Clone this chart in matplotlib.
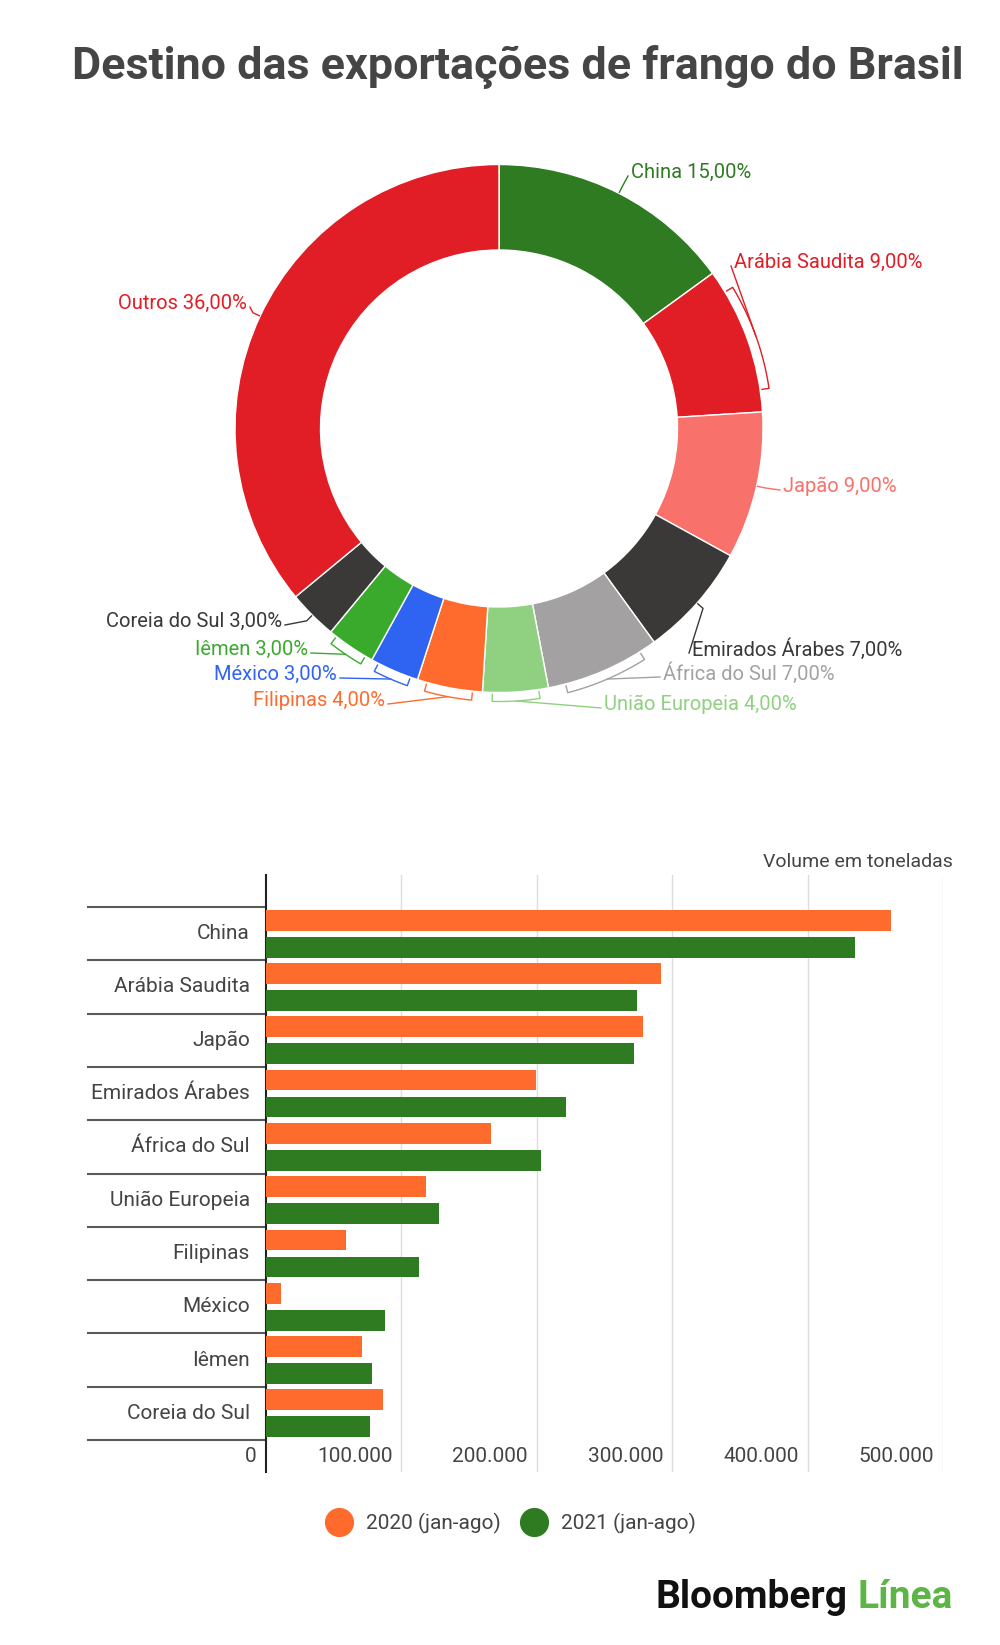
import numpy as np
import matplotlib
matplotlib.use("Agg")
import matplotlib.pyplot as plt
from matplotlib.lines import Line2D
from matplotlib.transforms import blended_transform_factory

plt.rcParams['font.family'] = ['Roboto', 'DejaVu Sans']

# dados do donut
paises_pie = ['China', 'Arábia Saudita', 'Japão', 'Emirados Árabes', 'África do Sul',
              'União Europeia', 'Filipinas', 'México', 'Iêmen', 'Coreia do Sul', 'Outros']
pct_pie = [15, 9, 9, 7, 7, 4, 4, 3, 3, 3, 36]
cores_pie = ['#2e7b22', '#e11d25', '#f8716a', '#3a3937', '#a3a1a1',
             '#8fd180', '#ff6b2c', '#2f63f2', '#3aaa2d', '#3a3937', '#e11d25']
cores_txt = ['#2e7b22', '#e11d25', '#f8716a', '#3a3937', '#a3a1a1',
             '#8fd180', '#ff6b2c', '#2f63f2', '#3aaa2d', '#3a3937', '#e11d25']

# dados das barras
paises_bar = ['China', 'Arábia Saudita', 'Japão', 'Emirados Árabes', 'África do Sul',
              'União Europeia', 'Filipinas', 'México', 'Iêmen', 'Coreia do Sul']
vol_2020 = [461900, 292000, 278500, 199600, 166300, 118100, 59000, 10800, 71200, 86500]
vol_2021 = [434900, 274000, 271700, 221300, 203200, 127500, 113100, 87900, 78000, 77100]
ticks_x = [0, 100000, 200000, 300000, 400000, 500000]
ticks_lbl = ['0', '100.000', '200.000', '300.000', '400.000', '500.000']
serie_nomes = ['2020 (jan-ago)', '2021 (jan-ago)']

W, H = 1000, 1645
fig = plt.figure(figsize=(W / 100, H / 100), dpi=100)
fig.patch.set_facecolor('white')

fig.text(0.518, 1 - 67 / H, 'Destino das exportações de frango do Brasil',
         ha='center', va='center', fontsize=32.3, fontweight='bold', color='#454545')

# donut
CX, CY, R, RI = 499, 428.5, 264, 178.5
ax_pie = fig.add_axes([(CX - R) / W, 1 - (CY + R) / H, 2 * R / W, 2 * R / H])
ax_pie.pie(pct_pie, colors=cores_pie, startangle=90, counterclock=False, radius=1,
           wedgeprops=dict(width=1 - RI / R, edgecolor='white', linewidth=1))
ax_pie.set_xlim(-1, 1)
ax_pie.set_ylim(-1, 1)
ax_pie.axis('off')

ov = fig.add_axes([0, 0, 1, 1])
ov.set_xlim(0, W)
ov.set_ylim(H, 0)
ov.axis('off')


def pt(ang, rr):
    a = np.radians(ang)
    return CX + rr * np.cos(a), CY - rr * np.sin(a)


# posicao dos rotulos (x, y, alinhamento, colchete)
rotulos = [(631, 172, 'left', False), (734, 262, 'left', True), (783, 486, 'left', False),
           (692, 649, 'left', False), (663, 673, 'left', True), (604, 704, 'left', True),
           (385, 700, 'right', True), (337, 674, 'right', True), (308, 649, 'right', True),
           (282, 621, 'right', False), (247, 303, 'right', False)]

cum = np.concatenate([[0], np.cumsum(pct_pie)])
for i, nome in enumerate(paises_pie):
    a0 = 90 - cum[i] * 3.6
    a1 = 90 - cum[i + 1] * 3.6
    am = (a0 + a1) / 2
    x, y, ha, bracket = rotulos[i]
    c = cores_txt[i]
    ov.text(x, y, f'{nome} {pct_pie[i]:.2f}%'.replace('.', ','), ha=ha, va='center',
            fontsize=14.5, color=c)
    ax_ = x - 3 if ha == 'left' else x + 3
    if bracket:
        span = (a0 - a1) * 0.35
        angs = np.linspace(am - span, am + span, 20)
        arc = np.array([pt(a, R + 9) for a in angs])
        e0 = pt(am - span, R + 2)
        e1 = pt(am + span, R + 2)
        xs = [e0[0]] + list(arc[:, 0]) + [e1[0]]
        ys = [e0[1]] + list(arc[:, 1]) + [e1[1]]
        ov.plot(xs, ys, color=c, lw=1)
        p = pt(am, R + 9)
        ov.plot([p[0], ax_], [p[1], y + 4], color=c, lw=1)
    else:
        p0 = pt(am, R + 1)
        p1 = pt(am, R + 8)
        ov.plot([p0[0], p1[0], ax_], [p0[1], p1[1], y + 4], color=c, lw=1)

# barras
X0, X5 = 266, 943
YT, YB = 875, 1472
ax = fig.add_axes([X0 / W, 1 - YB / H, (X5 - X0) / W, (YB - YT) / H])
n = len(paises_bar)
yy = np.arange(n)
ax.barh(yy - 0.253, vol_2020, height=0.39, color='#ff6b2c', zorder=3)
ax.barh(yy + 0.253, vol_2021, height=0.39, color='#2e7b22', zorder=3)
ax.set_xlim(0, 500000)
ax.set_ylim(n - 0.5 + 0.6, -0.5 - 0.6)
for s in ['top', 'right', 'bottom']:
    ax.spines[s].set_visible(False)
ax.spines['left'].set_color('#222222')
ax.spines['left'].set_linewidth(1.5)
ax.set_xticks([])
ax.set_yticks([])
for t in ticks_x[1:]:
    ax.axvline(t, color='#dddddd', lw=1, zorder=1)

trans = blended_transform_factory(ax.transAxes, ax.transData)
sep_x0 = (88 - X0) / (X5 - X0)
for b in np.arange(n + 1) - 0.5:
    ax.plot([sep_x0, 0], [b, b], transform=trans, color='#5a5a5a', lw=1.5, clip_on=False)
for i, nome in enumerate(paises_bar):
    ax.annotate(nome, xy=(0, i), xycoords=trans, xytext=(-16 * 0.72, 0),
                textcoords='offset points', ha='right', va='center', fontsize=15,
                color='#444444')

transx = blended_transform_factory(ax.transData, ax.transAxes)
for t, lbl in zip(ticks_x, ticks_lbl):
    ax.annotate(lbl, xy=(t, 16 / (YB - YT)), xycoords=transx, xytext=(-9 * 0.72, 0),
                textcoords='offset points', ha='right', va='center', fontsize=15,
                color='#444444')

fig.text(953 / W, 1 - 862 / H, 'Volume em toneladas', ha='right', va='center',
         fontsize=14, color='#444444')

handles = [Line2D([], [], ls='none', marker='o', markersize=20, color='#ff6b2c'),
           Line2D([], [], ls='none', marker='o', markersize=20, color='#2e7b22')]
fig.legend(handles, serie_nomes, loc='center', bbox_to_anchor=(0.511, 1 - 1523 / H),
           ncol=2, frameon=False, fontsize=15, labelcolor='#444444',
           handletextpad=0.7, columnspacing=1.0, handlelength=1.2)

fig.text(656 / W, 1 - 1597 / H, 'Bloomberg', ha='left', va='center', fontsize=28,
         fontweight='bold', color='#111111')
fig.text(857 / W, 1 - 1597 / H, 'Línea', ha='left', va='center', fontsize=28,
         fontweight='bold', color='#5cb544')

plt.savefig('out.png', dpi=100)
